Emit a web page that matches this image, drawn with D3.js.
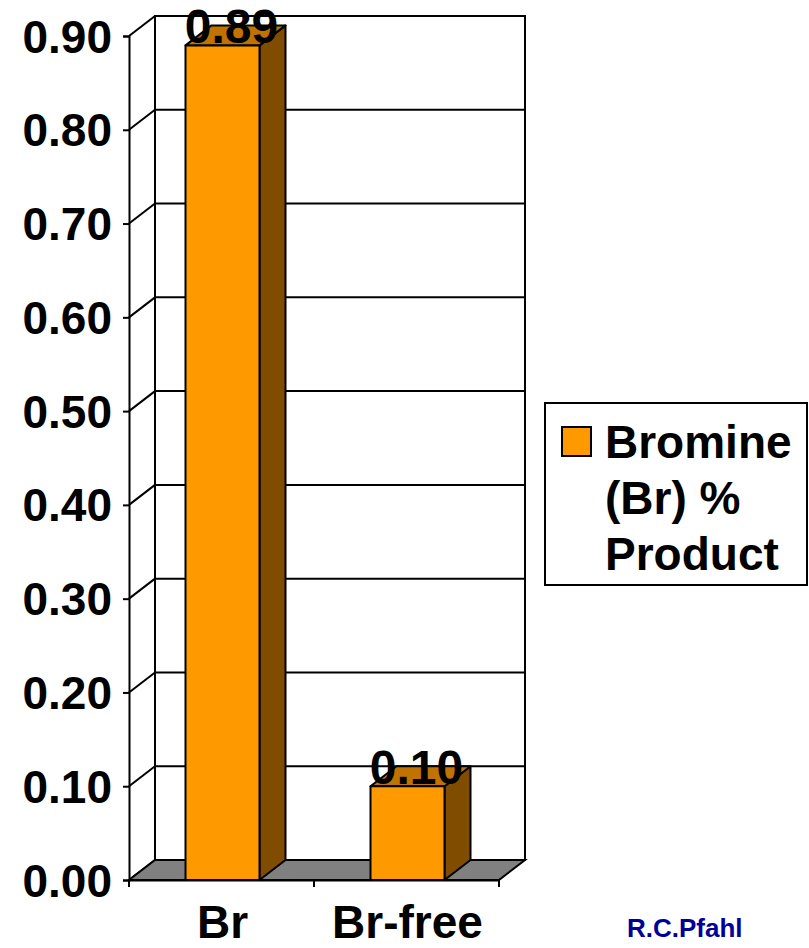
<!DOCTYPE html>
<html>
<head>
<meta charset="utf-8">
<script src="https://cdn.jsdelivr.net/npm/d3@7"></script>
<style>
body { margin: 0; background: #fff; }
text { font-family: "Liberation Sans", Arial, sans-serif; font-weight: bold; }
</style>
</head>
<body>
<script>
// data
var categories = ["Br", "Br-free"];
var values = [0.89, 0.10];
var yTicks = [0.00, 0.10, 0.20, 0.30, 0.40, 0.50, 0.60, 0.70, 0.80, 0.90];
var seriesName = ["Bromine", "(Br) %", "Product"];
var credit = "R.C.Pfahl";

var W = 809, H = 948;
var depth = { dx: 26, dy: -20 };

var svg = d3.select("body").append("svg")
	.attr("width", W)
	.attr("height", H);

var y = d3.scaleLinear().domain([0, 0.9]).range([880, 36]);
var x = d3.scaleBand().domain(categories).range([129, 499]).padding(0);
var barW = x.bandwidth() * 0.4;
var barOff = (x.bandwidth() - barW) / 2 + 1;

var x0 = x.range()[0], x1 = x.range()[1];

// back wall
svg.append("rect")
	.attr("x", x0 + depth.dx)
	.attr("y", y(0.9) + depth.dy)
	.attr("width", x1 - x0)
	.attr("height", y(0) - y(0.9))
	.attr("fill", "#fff")
	.attr("stroke", "#000")
	.attr("stroke-width", 2);

// gridlines on back wall + diagonals on side wall
var grid = svg.append("g").attr("stroke", "#000").attr("stroke-width", 2);
grid.selectAll("line.h")
	.data(yTicks)
	.enter().append("line")
	.attr("x1", x0 + depth.dx)
	.attr("x2", x1 + depth.dx)
	.attr("y1", d => y(d) + depth.dy)
	.attr("y2", d => y(d) + depth.dy);
grid.selectAll("line.d")
	.data(yTicks)
	.enter().append("line")
	.attr("x1", x0)
	.attr("x2", x0 + depth.dx)
	.attr("y1", d => y(d))
	.attr("y2", d => y(d) + depth.dy);

// floor
svg.append("path")
	.attr("d", "M" + [x0, y(0)] + "L" + [x1, y(0)] + "L" + [x1 + depth.dx, y(0) + depth.dy] +
		"L" + [x0 + depth.dx, y(0) + depth.dy] + "Z")
	.attr("fill", "#808080")
	.attr("stroke", "#000")
	.attr("stroke-width", 2);

// axes
var yAxis = d3.axisLeft(y).tickValues(yTicks).tickSize(6).tickFormat(d3.format(".2f"));
var yG = svg.append("g")
	.attr("transform", "translate(" + x0 + ",0)")
	.call(yAxis);
yG.select(".domain").attr("stroke-width", 2);
yG.selectAll(".tick line").attr("stroke-width", 2);
yG.selectAll(".tick text")
	.attr("x", -17)
	.attr("dy", "0.35em")
	.attr("fill", "#000")
	.style("font-size", "46px");

var xAxis = d3.axisBottom(x).tickSize(0).tickFormat("");
var xG = svg.append("g")
	.attr("transform", "translate(0," + y(0) + ")")
	.call(xAxis);
xG.select(".domain").attr("stroke-width", 2);
xG.selectAll(".sep")
	.data([x0].concat(categories.map(c => x(c) + x.bandwidth())))
	.enter().append("line")
	.attr("x1", d => d).attr("x2", d => d)
	.attr("y1", 0).attr("y2", 7)
	.attr("stroke", "#000").attr("stroke-width", 2);
xG.selectAll(".cat")
	.data(categories)
	.enter().append("text")
	.attr("x", d => x(d) + barOff + barW / 2)
	.attr("y", 58)
	.attr("text-anchor", "middle")
	.attr("fill", "#000")
	.style("font-size", "46px")
	.text(d => d);

// bars
var bars = svg.append("g").selectAll("g")
	.data(categories.map((c, i) => ({ cat: c, v: values[i] })))
	.enter().append("g")
	.attr("stroke", "#000")
	.attr("stroke-width", 2)
	.attr("stroke-linejoin", "round");

bars.append("path")
	.attr("fill", "#7f4c00")
	.attr("d", d => {
		var bx = x(d.cat) + barOff + barW;
		return "M" + [bx, y(0)] + "L" + [bx + depth.dx, y(0) + depth.dy] +
			"L" + [bx + depth.dx, y(d.v) + depth.dy] + "L" + [bx, y(d.v)] + "Z";
	});
bars.append("path")
	.attr("fill", "#c07300")
	.attr("d", d => {
		var bx = x(d.cat) + barOff;
		return "M" + [bx, y(d.v)] + "L" + [bx + barW, y(d.v)] +
			"L" + [bx + barW + depth.dx, y(d.v) + depth.dy] + "L" + [bx + depth.dx, y(d.v) + depth.dy] + "Z";
	});
bars.append("rect")
	.attr("fill", "#ff9900")
	.attr("x", d => x(d.cat) + barOff)
	.attr("y", d => y(d.v))
	.attr("width", barW)
	.attr("height", d => y(0) - y(d.v));

// value labels
svg.append("g").selectAll("text")
	.data(categories.map((c, i) => ({ cat: c, v: values[i] })))
	.enter().append("text")
	.attr("x", d => x(d.cat) + barOff + barW / 2 + 9)
	.attr("y", d => y(d.v) - 2)
	.attr("text-anchor", "middle")
	.style("font-size", "48px")
	.text(d => d3.format(".2f")(d.v));

// legend
var lg = svg.append("g");
lg.append("rect")
	.attr("x", 545).attr("y", 403)
	.attr("width", 262).attr("height", 182)
	.attr("fill", "#fff")
	.attr("stroke", "#000")
	.attr("stroke-width", 2);
lg.append("rect")
	.attr("x", 562).attr("y", 427)
	.attr("width", 29).attr("height", 29)
	.attr("fill", "#ff9900")
	.attr("stroke", "#000")
	.attr("stroke-width", 2);
lg.selectAll("text.l")
	.data(seriesName)
	.enter().append("text")
	.attr("x", 605)
	.attr("y", (d, i) => 458 + i * 56)
	.style("font-size", "46px")
	.text(d => d);

svg.append("text")
	.attr("x", 627)
	.attr("y", 937)
	.attr("fill", "#000099")
	.style("font-size", "26px")
	.text(credit);
</script>
</body>
</html>
